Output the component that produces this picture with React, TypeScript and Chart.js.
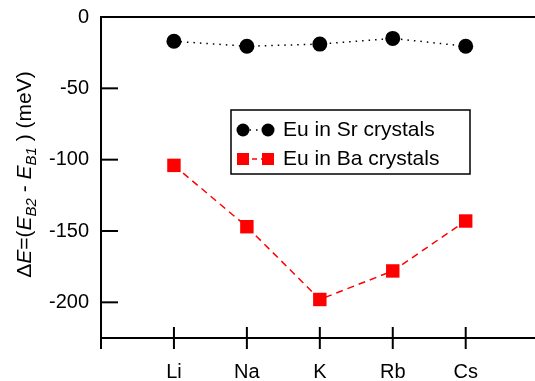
import React, { useEffect, useRef } from "react";
import { Chart, registerables } from "chart.js";

Chart.register(...registerables);

const categories = ["Li", "Na", "K", "Rb", "Cs"];
const srValues = [-17, -20.5, -19, -15, -20.5];
const baValues = [-104, -147, -198, -178, -143];
const yTickValues = [0, -50, -100, -150, -200];
const xTickValues = [0, 1, 2, 3, 4, 5];
const seriesLabels = ["Eu in Sr crystals", "Eu in Ba crystals"];

const FONT = '"Liberation Sans", Arial, Helvetica, sans-serif';

const zeroPad = (scale: any) => {
  scale.paddingLeft = 0;
  scale.paddingRight = 0;
  scale.paddingTop = 0;
  scale.paddingBottom = 0;
};

const tickPlugin = {
  id: "customTicks",
  afterDraw(chart: any) {
    const { ctx, chartArea, scales } = chart;
    ctx.save();
    ctx.strokeStyle = "#000";
    ctx.lineWidth = 2;
    yTickValues.forEach((v) => {
      const y = scales.y.getPixelForValue(v);
      ctx.beginPath();
      ctx.moveTo(chartArea.left, y);
      ctx.lineTo(chartArea.left + 17, y);
      ctx.stroke();
    });
    xTickValues.forEach((v) => {
      const x = scales.x.getPixelForValue(v);
      ctx.beginPath();
      ctx.moveTo(x, v === 0 ? chartArea.bottom : chartArea.bottom - 11);
      ctx.lineTo(x, chartArea.bottom + 11);
      ctx.stroke();
    });
    ctx.restore();
  },
};

const yTitlePlugin = {
  id: "yTitle",
  afterDraw(chart: any) {
    const { ctx, chartArea } = chart;
    const segs = [
      { t: "Δ", it: false, sub: false },
      { t: "E", it: true, sub: false },
      { t: "=(", it: false, sub: false },
      { t: "E", it: true, sub: false },
      { t: "B2", it: true, sub: true },
      { t: " - ", it: false, sub: false },
      { t: "E", it: true, sub: false },
      { t: "B1", it: true, sub: true },
      { t: " ) (meV)", it: false, sub: false },
    ];
    const fontFor = (s: any) =>
      `${s.it ? "italic " : ""}${s.sub ? 15 : 21}px ${FONT}`;
    ctx.save();
    let total = 0;
    const widths = segs.map((s) => {
      ctx.font = fontFor(s);
      const w = ctx.measureText(s.t).width;
      total += w;
      return w;
    });
    ctx.translate(24, (chartArea.top + chartArea.bottom) / 2 - 3);
    ctx.rotate(-Math.PI / 2);
    ctx.fillStyle = "#000";
    ctx.textBaseline = "alphabetic";
    let x = -total / 2;
    segs.forEach((s, i) => {
      ctx.font = fontFor(s);
      ctx.fillText(s.t, x, s.sub ? 12 : 7);
      x += widths[i];
    });
    ctx.restore();
  },
};

const legendPlugin = {
  id: "customLegend",
  afterDraw(chart: any) {
    const { ctx } = chart;
    ctx.save();
    ctx.strokeStyle = "#000";
    ctx.lineWidth = 1.5;
    ctx.strokeRect(231, 110, 239, 64);
    const rows = [130, 159];
    const x1 = 243;
    const x2 = 268;
    ctx.beginPath();
    ctx.setLineDash([1.5, 5]);
    ctx.lineWidth = 1.5;
    ctx.moveTo(x1, rows[0]);
    ctx.lineTo(x2, rows[0]);
    ctx.stroke();
    ctx.setLineDash([]);
    ctx.fillStyle = "#000";
    [x1, x2].forEach((x) => {
      ctx.beginPath();
      ctx.arc(x, rows[0], 6.5, 0, Math.PI * 2);
      ctx.fill();
    });
    ctx.beginPath();
    ctx.strokeStyle = "#ff0000";
    ctx.setLineDash([5, 4]);
    ctx.moveTo(x1, rows[1]);
    ctx.lineTo(x2, rows[1]);
    ctx.stroke();
    ctx.setLineDash([]);
    ctx.fillStyle = "#ff0000";
    [x1, x2].forEach((x) => {
      ctx.fillRect(x - 6, rows[1] - 6, 12, 12);
    });
    ctx.fillStyle = "#000";
    ctx.font = `21px ${FONT}`;
    ctx.textBaseline = "middle";
    ctx.textAlign = "left";
    ctx.fillText(seriesLabels[0], 283, rows[0]);
    ctx.fillText(seriesLabels[1], 283, rows[1]);
    ctx.restore();
  },
};

export default function App() {
  const ref = useRef<HTMLCanvasElement | null>(null);
  useEffect(() => {
    if (!ref.current) return;
    const chart = new Chart(ref.current, {
      type: "line",
      data: {
        datasets: [
          {
            label: seriesLabels[0],
            data: srValues.map((v, i) => ({ x: i + 1, y: v })),
            borderColor: "#000",
            backgroundColor: "#000",
            borderWidth: 1.5,
            borderDash: [1.5, 5],
            pointStyle: "circle",
            pointRadius: 7.5,
            pointBorderWidth: 0,
            pointBackgroundColor: "#000",
            fill: false,
          },
          {
            label: seriesLabels[1],
            data: baValues.map((v, i) => ({ x: i + 1, y: v })),
            borderColor: "#ff0000",
            backgroundColor: "#ff0000",
            borderWidth: 1.5,
            borderDash: [7, 5],
            pointStyle: "rect",
            pointRadius: 9.5,
            pointBorderWidth: 0,
            pointBackgroundColor: "#ff0000",
            fill: false,
          },
        ],
      },
      options: {
        animation: false,
        responsive: false,
        layout: { autoPadding: false, padding: { left: 0, right: 0, top: 0, bottom: 0 } },
        plugins: {
          legend: { display: false },
          tooltip: { enabled: false },
          title: { display: false },
        },
        scales: {
          x: {
            type: "linear",
            position: "bottom",
            min: 0,
            max: 5.95,
            grid: { display: false, drawTicks: false },
            border: { display: true, color: "#000", width: 2 },
            afterBuildTicks: (scale: any) => {
              scale.ticks = xTickValues.map((v) => ({ value: v }));
            },
            afterFit: (scale: any) => {
              scale.height = 43;
              zeroPad(scale);
            },
            ticks: {
              color: "#000",
              font: { size: 20, family: FONT },
              padding: 22,
              maxRotation: 0,
              autoSkip: false,
              callback: (v: any) => categories[Number(v) - 1] ?? "",
            },
          },
          x2: {
            type: "linear",
            position: "top",
            min: 0,
            max: 5.95,
            grid: { display: false, drawTicks: false },
            border: { display: true, color: "#000", width: 2 },
            ticks: { display: false },
            afterFit: (scale: any) => {
              scale.height = 17;
              zeroPad(scale);
            },
          },
          y: {
            type: "linear",
            min: -225,
            max: 0,
            grid: { display: false, drawTicks: false },
            border: { display: true, color: "#000", width: 2 },
            afterBuildTicks: (scale: any) => {
              scale.ticks = yTickValues.map((v) => ({ value: v }));
            },
            afterFit: (scale: any) => {
              scale.width = 101;
              zeroPad(scale);
            },
            ticks: {
              color: "#000",
              font: { size: 20, family: FONT },
              padding: 12,
              callback: (v: any) => String(v),
            },
          },
        },
      },
      plugins: [tickPlugin, yTitlePlugin, legendPlugin],
    });
    return () => chart.destroy();
  }, []);
  return (
    <div style={{ position: "fixed", left: 0, top: 0, width: 535, height: 381, background: "#fff" }}>
      <canvas ref={ref} width={535} height={381} />
    </div>
  );
}
